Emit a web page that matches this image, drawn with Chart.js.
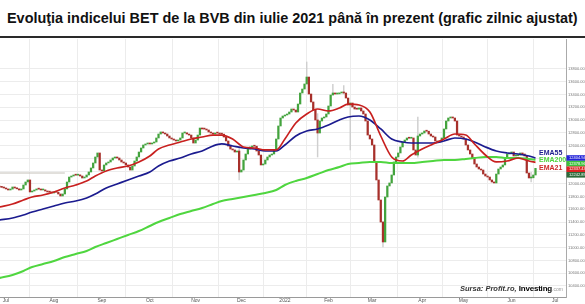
<!DOCTYPE html>
<html><head><meta charset="utf-8">
<script src="https://cdn.jsdelivr.net/npm/chart.js@4/dist/chart.umd.min.js"></script>
<style>
html,body{margin:0;padding:0;background:#fff;}
body{width:585px;height:304px;position:relative;overflow:hidden;font-family:"Liberation Sans",Arial,sans-serif;}
#title{position:absolute;left:7px;top:9px;font-weight:bold;font-size:16px;white-space:nowrap;color:#111;line-height:18px;}
#rule{position:absolute;left:0;top:36px;width:585px;height:2px;background:#2a2a2a;}
#wrap{position:absolute;left:0;top:39px;width:585px;height:265px;}
#src{position:absolute;left:460px;top:281px;white-space:nowrap;line-height:10px;}
#src .s1{font-weight:bold;font-style:italic;font-size:7.5px;color:#333;}
#src .s2{font-weight:bold;font-size:8px;color:#000;letter-spacing:-0.2px;margin-left:2px;}
#src .s3{font-size:5px;color:#999;}
</style></head>
<body>
<div id="title"><span id="tt">Evoluţia indicelui BET de la BVB din iulie 2021 până în prezent (grafic zilnic ajustat)</span></div>
<div id="rule"></div>
<div id="wrap"><canvas id="c" width="585" height="265"></canvas></div>
<div id="src"><span class="s1">Sursa: Profit.ro,</span><span class="s2">Investing</span><span class="s3">.com</span></div>
<script>
// ---- data (trading-day index, 0 = 1 Jul 2021) ----
const firstIndex = -3;
const firstOpen = 11960;
const closes = [
11951,11945,11935,
11920,11904,11918,11951,11935,11922,11904,11920,11982,12029,
12061,11873,11888,11904,11920,11917,11904,11906,11888,11873,
11870,11857,11873,11869,11841,11810,11841,11920,12029,12107,
12123,12139,12136,12141,12123,12092,12107,12139,12186,12249,
12327,12421,12484,12217,12202,12296,12327,12343,12374,12405,
12421,12405,12374,12343,12327,12296,12264,12217,12280,12358,
12421,12499,12562,12609,12625,12640,12625,12640,12656,12719,
12781,12813,12797,12781,12750,12719,12703,12687,12672,12687,
12719,12797,12800,12781,12765,12719,12640,12687,12765,12875,
12860,12858,12844,12813,12797,12781,12797,12795,12781,12779,
12734,12672,12593,12546,12531,12499,12515,12186,12217,12374,
12468,12546,12578,12593,12590,12515,12452,12296,12311,12374,
12421,12452,12468,12531,12703,12907,13032,13063,13079,13095,
13126,13173,13157,13126,13251,13424,13486,13565,13674,13408,
13283,13157,13001,12797,12985,13032,13048,13095,13220,13392,
13424,13408,13410,13424,13439,13424,13345,13236,13267,13204,
13173,13170,13189,13142,13095,12985,12765,12703,12609,12343,
12061,11747,11402,11089,11794,11967,12014,12139,12343,12421,
12484,12578,12656,12687,12719,12715,12719,12531,12452,12750,
12781,12797,12828,12825,12781,12750,12734,12672,12656,12672,
12719,12860,12985,13032,13048,13032,12985,12765,12750,12734,
12703,12609,12531,12468,12405,12311,12264,12233,12217,12154,
12123,12107,12061,12029,12014,12154,12233,12264,12296,12405,
12468,12484,12499,12437,12440,12452,12484,12468,12437,12170,
12092,12095,12139,12243];

const wickIdx  = [107,   138,   143,   150,   155,   158,   173,   189,   241];
const wickLow  = [12061, 13600, 12421, 13400, 13410, 12531, 11011, 12420, 12029];
const wickHigh = [12560, 13910, 13100, 13560, 13540, 13267, 11410, 13048, 12180];

const emaIdx = [-3,3,8,12,17,22,27,32,37,41,46,51,56,61,66,70,75,80,85,90,95,99,104,109,114,119,124,128,133,138,143,148,153,157,162,167,172,177,182,186,191,196,201,206,211,215,220,225,230,235,240,243];
const ema21 = [11637,11684,11747,11794,11826,11873,11935,11982,12045,12123,12202,12249,12280,12343,12437,12546,12609,12656,12703,12734,12765,12765,12703,12578,12562,12531,12531,12703,12954,13095,13173,13142,13189,13251,13236,13126,12750,12421,12358,12452,12546,12625,12703,12781,12765,12625,12452,12343,12358,12405,12358,12337];
const ema55 = [11434,11465,11512,11559,11606,11653,11700,11731,11779,11841,11935,11998,12061,12123,12186,12280,12358,12405,12468,12515,12593,12625,12593,12562,12546,12515,12515,12609,12750,12828,12860,12922,13001,13048,13063,13001,12860,12703,12656,12640,12640,12640,12672,12719,12703,12656,12578,12515,12484,12468,12437,12405];
const ema200 = [10525,10572,10635,10697,10744,10791,10854,10901,10948,11011,11073,11136,11199,11261,11340,11402,11465,11528,11575,11622,11684,11731,11763,11794,11826,11857,11904,11982,12045,12092,12154,12217,12264,12311,12327,12343,12343,12327,12327,12327,12343,12358,12374,12374,12390,12405,12421,12421,12405,12405,12390,12379];

const refLineIdx = [-3, 27];
const refLineValue = 12170;

const monthTickIdx = [0,22,44,66,87,108,128,148,168,191,210,232,252];
const monthTickLabels = ['Jul','Aug','Sep','Oct','Nov','Dec','2022','Feb','Mar','Apr','May','Jun','Jul'];
const yTickValues = [10400,10600,10800,11000,11200,11400,11600,11800,12000,12200,12400,12600,12800,13000,13200,13400,13600,13800];
const lastLabels = ['12404.94','12378.96','12337.43','12242.89'];
const seriesNames = ['EMA55','EMA200','EMA21'];

// ---- build tables ----
const candleData = [], candleColors = [];
closes.forEach((c, k) => {
  const o = k === 0 ? firstOpen : closes[k - 1];
  candleData.push({x: firstIndex + k, y: [o, c]});
  candleColors.push(c >= o ? '#43a33d' : '#a7302b');
});
const wickData = wickIdx.map((ix, k) => ({x: ix, y: [wickLow[k], wickHigh[k]]}));
const toPts = arr => arr.map((v, k) => ({x: emaIdx[k], y: v}));

// fit title width
(function(){
  const tt = document.getElementById('tt');
  const w = tt.getBoundingClientRect().width;
  document.getElementById('title').style.fontSize = (16 * 571 / w) + 'px';
})();

const endLabels = {
  id: 'endLabels',
  afterDraw(chart) {
    const ctx = chart.ctx, ys = chart.scales.y, a = chart.chartArea;
    const items = [
      {v: ema55[ema55.length - 1], t: lastLabels[0], bg: '#2323d8'},
      {v: ema200[ema200.length - 1], t: lastLabels[1], bg: '#3cc23c'},
      {v: ema21[ema21.length - 1], t: lastLabels[2], bg: '#dd2323'},
      {v: closes[closes.length - 1], t: lastLabels[3], bg: '#2d6a3a'}
    ];
    let prev = -1e9;
    items.forEach(it => { it.py = Math.max(ys.getPixelForValue(it.v), prev + 5.6); prev = it.py; });
    ctx.save();
    items.forEach(it => {
      ctx.fillStyle = it.bg;
      ctx.fillRect(a.right + 0.5, it.py - 2.8, 19, 5.6);
      ctx.fillStyle = '#fff';
      ctx.font = '4px "Liberation Sans", Arial';
      ctx.textBaseline = 'middle';
      ctx.textAlign = 'left';
      ctx.fillText(it.t, a.right + 3, it.py);
    });
    const lc = ['#1c1c8e', '#4fd63f', '#cc2a2a'];
    const ly = [items[0].py - 5, items[0].py + 2.5, items[0].py + 10];
    ctx.font = 'bold 7px "Liberation Sans", Arial';
    ctx.textBaseline = 'middle';
    seriesNames.forEach((n, k) => {
      ctx.fillStyle = lc[k];
      ctx.fillText(n, a.right - 27, ly[k]);
    });
    ctx.restore();
  }
};

new Chart(document.getElementById('c'), {
  data: {
    datasets: [
      {type: 'line', label: 'EMA21', data: toPts(ema21), borderColor: '#c8201f', borderWidth: 1.7, pointRadius: 0, cubicInterpolationMode: 'monotone', order: 1},
      {type: 'line', label: 'EMA55', data: toPts(ema55), borderColor: '#1b1b8f', borderWidth: 1.7, pointRadius: 0, cubicInterpolationMode: 'monotone', order: 2},
      {type: 'line', label: 'EMA200', data: toPts(ema200), borderColor: '#4fd63f', borderWidth: 2, pointRadius: 0, cubicInterpolationMode: 'monotone', order: 3},
      {type: 'line', label: 'ref', data: refLineIdx.map(x => ({x, y: refLineValue})), borderColor: '#c4c0b8', borderWidth: 1, pointRadius: 0, order: 4},
      {type: 'bar', label: 'BET', data: candleData, backgroundColor: candleColors, barThickness: 1.6, minBarLength: 1, grouped: false, order: 5},
      {type: 'bar', label: 'wick', data: wickData, backgroundColor: '#cfcfcf', barThickness: 0.8, grouped: false, order: 6}
    ]
  },
  options: {
    responsive: false,
    animation: false,
    devicePixelRatio: 1,
    layout: {padding: 0},
    plugins: {legend: {display: false}, tooltip: {enabled: false}, title: {display: false}},
    scales: {
      x: {
        type: 'linear', min: -2.754, max: 257.0, offset: false,
        afterBuildTicks: s => { s.ticks = monthTickIdx.map(v => ({value: v})); },
        afterFit: s => { s.height = 7; s.paddingLeft = 0; s.paddingRight = 0; s.paddingTop = 0; s.paddingBottom = 0; },
        ticks: {autoSkip: false, maxRotation: 0, padding: 1, color: '#555', font: {size: 5, family: '"Liberation Sans", Arial'},
          callback: v => { const k = monthTickIdx.indexOf(v); return k >= 0 ? monthTickLabels[k] : ''; }},
        grid: {color: '#ececec', lineWidth: 1, drawTicks: false},
        border: {color: '#9a9a9a', width: 1}
      },
      y: {
        type: 'linear', position: 'right', min: 10227, max: 14270,
        afterBuildTicks: s => { s.ticks = yTickValues.map(v => ({value: v})); },
        afterFit: s => { s.width = 19; s.paddingLeft = 0; s.paddingRight = 0; s.paddingTop = 0; s.paddingBottom = 0; },
        ticks: {padding: 2, color: '#777', font: {size: 4, family: '"Liberation Sans", Arial'},
          callback: v => Number(v).toFixed(2)},
        grid: {color: '#ececec', lineWidth: 1, drawTicks: false},
        border: {color: '#aaaaaa', width: 1}
      }
    }
  },
  plugins: [endLabels]
});
</script>
</body></html>
